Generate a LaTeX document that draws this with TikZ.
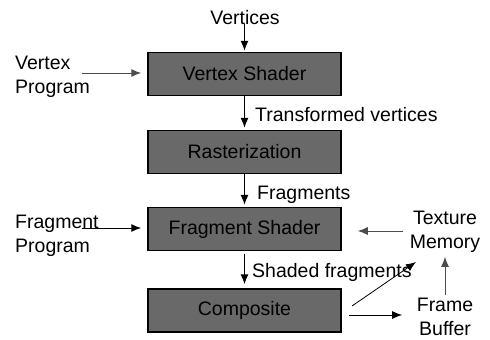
\documentclass[tikz,border=0pt]{standalone}
\usepackage{fontspec}
\setmainfont{Liberation Sans}
\usepackage{tikz}
\usetikzlibrary{calc}
\usetikzlibrary{arrows.meta}
\tikzset{>={Latex[length=10pt,width=8pt]}}
\definecolor{stagegray}{HTML}{696969}
\tikzset{
  stage/.style={draw=black, line width=1.5pt, fill=stagegray, minimum width=193pt, minimum height=43pt, inner sep=0pt, font=\fontsize{19.5}{24}\selectfont},
  lbl/.style={inner sep=0pt, font=\fontsize{19.5}{24}\selectfont},
  flow/.style={->, line width=1pt}
}

\begin{document}
\begin{tikzpicture}[x=1pt,y=-1pt]
  \useasboundingbox (0,0) rectangle (490,340);
  % pipeline stages
  \node[stage] (vs)   at (244.5,74)    {Vertex Shader};
  \node[stage] (rast) at (244.5,152)   {Rasterization};
  \node[stage] (fs)   at (244.5,229)   {Fragment Shader};
  \node[stage] (comp) at (244.5,310.5) {Composite};
  % labels
  \node[lbl,anchor=base] (vert) at (245,24) {Vertices};
  \node[lbl,anchor=north west,align=left] (vprog) at (15,56) {Vertex\\Program};
  \node[lbl,anchor=base west] (tvert) at (255,121) {Transformed vertices};
  \node[lbl,anchor=base west] (frag) at (257,199) {Fragments};
  \node[lbl,anchor=north west,align=left] (fprog) at (15,215) {Fragment\\Program};
  \node[lbl,anchor=north,align=center] (texmem) at (445,211) {Texture\\Memory};
  \node[lbl,anchor=base west] (sfrag) at (252,277) {Shaded fragments};
  \node[lbl,anchor=north,align=center] (fbuf) at (445,298) {Frame\\Buffer};
  % free ends
  \coordinate (vpin) at (82,73);
  \coordinate (fpin) at (82,228);
  \coordinate (tmout) at (403,231);
  \coordinate (cmpout) at (349,315);
  \coordinate (cmpdiag) at (352,306);
  \coordinate (tmin) at (416,262);
  % connectors
  \draw[flow,shorten >=1pt] (vert.south -| vs.north) -- (vs.north);
  \draw[flow,black!70,shorten >=6pt] (vpin) -- (vpin -| vs.west);
  \draw[flow,shorten >=2pt] (vs.south) -- (rast.north);
  \draw[flow,shorten >=2pt] (rast.south) -- (fs.north);
  \draw[flow,shorten >=6pt] (fpin) -- (fpin -| fs.west);
  \draw[flow,black!70,shorten >=16pt] (tmout) -- (tmout -| fs.east);
  \draw[flow,shorten <=3pt,shorten >=4pt] (fs.south) -- (comp.north);
  \draw[flow,shorten >=14.5pt] (cmpout) -- (cmpout -| fbuf.west);
  \draw[flow,line width=0.8pt] (cmpdiag) -- (tmin);
  \draw[flow,black!70] ([yshift=3pt]fbuf.north) -- ([yshift=-4pt]texmem.south);
\end{tikzpicture}
\end{document}
